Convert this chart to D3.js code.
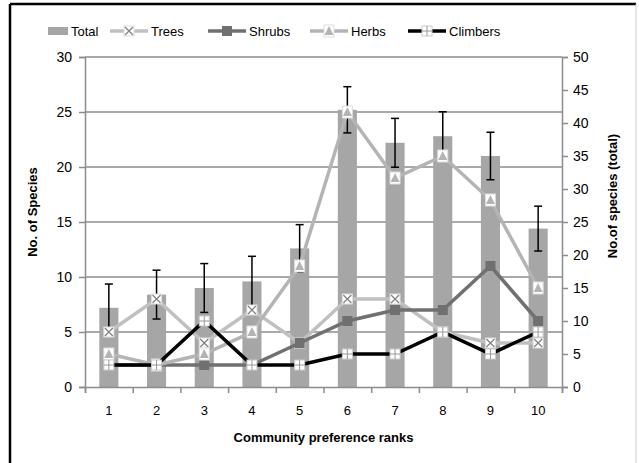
<!doctype html>
<html>
<head>
<meta charset="utf-8">
<style>
  body { margin: 0; background: #fff; }
  svg text { font-family: "Liberation Sans", Arial, sans-serif; font-size: 13px; fill: #000; }
  .title { font-weight: bold; font-size: 13px; }
  .axis path, .axis line { stroke: #8c8c8c; stroke-width: 1.5; }
  .grid line { stroke: #8c8c8c; stroke-width: 1.5; }
</style>
</head>
<body>
<div id="chart"></div>
<script src="https://d3js.org/d3.v7.min.js"></script>
<script>
// data
var ranks    = [1, 2, 3, 4, 5, 6, 7, 8, 9, 10];
var total    = [12, 14, 15, 16, 21, 42, 37, 38, 35, 24];
var totalErr = [3.6, 3.7, 3.7, 3.8, 3.6, 3.5, 3.7, 3.7, 3.6, 3.4];
var trees    = [5, 8, 4, 7, 4, 8, 8, 5, 4, 4];
var shrubs   = [2, 2, 2, 2, 4, 6, 7, 7, 11, 6];
var herbs    = [3, 2, 3, 5, 11, 25, 19, 21, 17, 9];
var climbers = [2, 2, 6, 2, 2, 3, 3, 5, 3, 5];
var leftTicks  = [0, 5, 10, 15, 20, 25, 30];
var rightTicks = [0, 5, 10, 15, 20, 25, 30, 35, 40, 45, 50];

var W = 639, H = 463;
var m = {top: 57, right: 77, bottom: 76, left: 85};
var w = W - m.left - m.right, h = H - m.top - m.bottom;

var svg = d3.select('#chart').append('svg').attr('width', W).attr('height', H);

// outer frame
svg.append('line').attr('x1', 10).attr('x2', 10).attr('y1', 4).attr('y2', H).style('stroke', '#000').style('stroke-width', 2.5);
svg.append('line').attr('x1', 10).attr('x2', 636).attr('y1', 4).attr('y2', 4).style('stroke', '#000').style('stroke-width', 2.5);
svg.append('line').attr('x1', 636).attr('x2', 636).attr('y1', 4).attr('y2', H).style('stroke', '#ccc').style('stroke-width', 1);

var g = svg.append('g').attr('transform', 'translate(' + m.left + ',' + m.top + ')');

var x = d3.scaleBand().domain(ranks).range([0, w]).padding(0);
var xb = d3.scaleLinear().domain([0, ranks.length]).range([0, w]);
var yL = d3.scaleLinear().domain([0, 30]).range([h, 0]);
var yR = d3.scaleLinear().domain([0, 50]).range([h, 0]);
var cx = function(d, i) { return x(ranks[i]) + x.bandwidth() / 2; };

// gridlines
g.append('g').attr('class', 'grid').selectAll('line').data(leftTicks.slice(1)).enter().append('line')
  .attr('x1', 0).attr('x2', w).attr('y1', yL).attr('y2', yL);

// bars (right axis)
var bw = x.bandwidth() * 0.4;
g.append('g').selectAll('rect').data(total).enter().append('rect')
  .attr('x', function(d, i) { return cx(d, i) - bw / 2; })
  .attr('y', function(d) { return yR(d); })
  .attr('width', bw).attr('height', function(d) { return h - yR(d); })
  .style('fill', '#a6a6a6');

// error bars
var eb = g.append('g').style('stroke', '#000').style('stroke-width', 1.5);
total.forEach(function(d, i) {
  var xx = cx(d, i), y1 = yR(d + totalErr[i]), y2 = yR(d - totalErr[i]);
  eb.append('line').attr('x1', xx).attr('x2', xx).attr('y1', y1).attr('y2', y2);
  eb.append('line').attr('x1', xx - 4).attr('x2', xx + 4).attr('y1', y1).attr('y2', y1);
  eb.append('line').attr('x1', xx - 4).attr('x2', xx + 4).attr('y1', y2).attr('y2', y2);
});

// axes
g.append('g').attr('class', 'axis').attr('transform', 'translate(0,' + h + ')')
  .call(d3.axisBottom(xb).tickValues(d3.range(0, ranks.length + 1)).tickSize(6).tickFormat(''));
var xl = g.append('g').attr('class', 'axis').attr('transform', 'translate(0,' + h + ')')
  .call(d3.axisBottom(x).tickSize(0).tickPadding(19));
xl.select('.domain').remove();
xl.selectAll('text').style('font-size', '13px');

var la = g.append('g').attr('class', 'axis').call(d3.axisLeft(yL).tickValues(leftTicks).tickSize(6).tickPadding(7));
la.selectAll('text').style('font-size', '14px');
var ra = g.append('g').attr('class', 'axis').attr('transform', 'translate(' + w + ',0)')
  .call(d3.axisRight(yR).tickValues(rightTicks).tickSize(6).tickPadding(5));
ra.selectAll('text').style('font-size', '14px');

// lines
var lineFn = d3.line().x(function(d, i) { return cx(d, i); }).y(function(d) { return yL(d); });

function marker(sel, type, color) {
  var s = 5;
  if (type === 'x') {
    sel.append('rect').attr('x', -s).attr('y', -s).attr('width', 2 * s).attr('height', 2 * s).style('fill', '#fff').style('stroke', '#ddd');
    sel.append('path').attr('d', 'M-4,-4L4,4M-4,4L4,-4').style('stroke', '#808080').style('stroke-width', 1.2);
  } else if (type === 'sq') {
    sel.append('rect').attr('x', -s).attr('y', -s).attr('width', 2 * s).attr('height', 2 * s).style('fill', color);
  } else if (type === 'tri') {
    sel.append('rect').attr('x', -s).attr('y', -s - 1).attr('width', 2 * s).attr('height', 2 * s + 2).style('fill', '#fff').style('stroke', '#ddd');
    sel.append('path').attr('d', 'M0,-5L4.5,4L-4.5,4Z').style('fill', color);
  } else {
    sel.append('rect').attr('x', -s).attr('y', -s).attr('width', 2 * s).attr('height', 2 * s).style('fill', '#fff').style('stroke', '#ccc');
    sel.append('path').attr('d', 'M0,-5L0,5M-5,0L5,0').style('stroke', '#999').style('stroke-width', 1);
  }
}

var series = [
  {name: 'Trees', vals: trees, color: '#c0c0c0', type: 'x'},
  {name: 'Shrubs', vals: shrubs, color: '#707070', type: 'sq'},
  {name: 'Herbs', vals: herbs, color: '#b4b4b4', type: 'tri'},
  {name: 'Climbers', vals: climbers, color: '#000', type: 'plus'}
];

series.forEach(function(s) {
  g.append('path').datum(s.vals).attr('d', lineFn)
    .style('fill', 'none').style('stroke', s.color).style('stroke-width', 3.5);
  g.append('g').selectAll('g').data(s.vals).enter().append('g')
    .attr('transform', function(d, i) { return 'translate(' + cx(d, i) + ',' + yL(d) + ')'; })
    .each(function() { marker(d3.select(this), s.type, s.color); });
});

// axis titles
svg.append('text').attr('class', 'title').attr('transform', 'translate(37,212) rotate(-90)')
  .style('text-anchor', 'middle').text('No. of Species');
svg.append('text').attr('class', 'title').attr('transform', 'translate(617,196) rotate(-90)')
  .style('text-anchor', 'middle').text('No.of species (total)');
svg.append('text').attr('class', 'title').attr('x', m.left + w / 2).attr('y', 442)
  .style('text-anchor', 'middle').text('Community preference ranks');

// legend
var lg = svg.append('g').attr('transform', 'translate(0,31)');
lg.append('rect').attr('x', 48).attr('y', -4).attr('width', 20).attr('height', 8).style('fill', '#a6a6a6');
lg.append('text').attr('x', 71).attr('y', 5).text('Total');
var lx = [110, 208, 310, 408];
series.forEach(function(s, i) {
  lg.append('line').attr('x1', lx[i]).attr('x2', lx[i] + 38).attr('y1', 0).attr('y2', 0)
    .style('stroke', s.color).style('stroke-width', 3.5);
  var mk = lg.append('g').attr('transform', 'translate(' + (lx[i] + 19) + ',0)');
  marker(mk, s.type, s.color);
  lg.append('text').attr('x', lx[i] + 41).attr('y', 5).text(s.name);
});
</script>
</body>
</html>
